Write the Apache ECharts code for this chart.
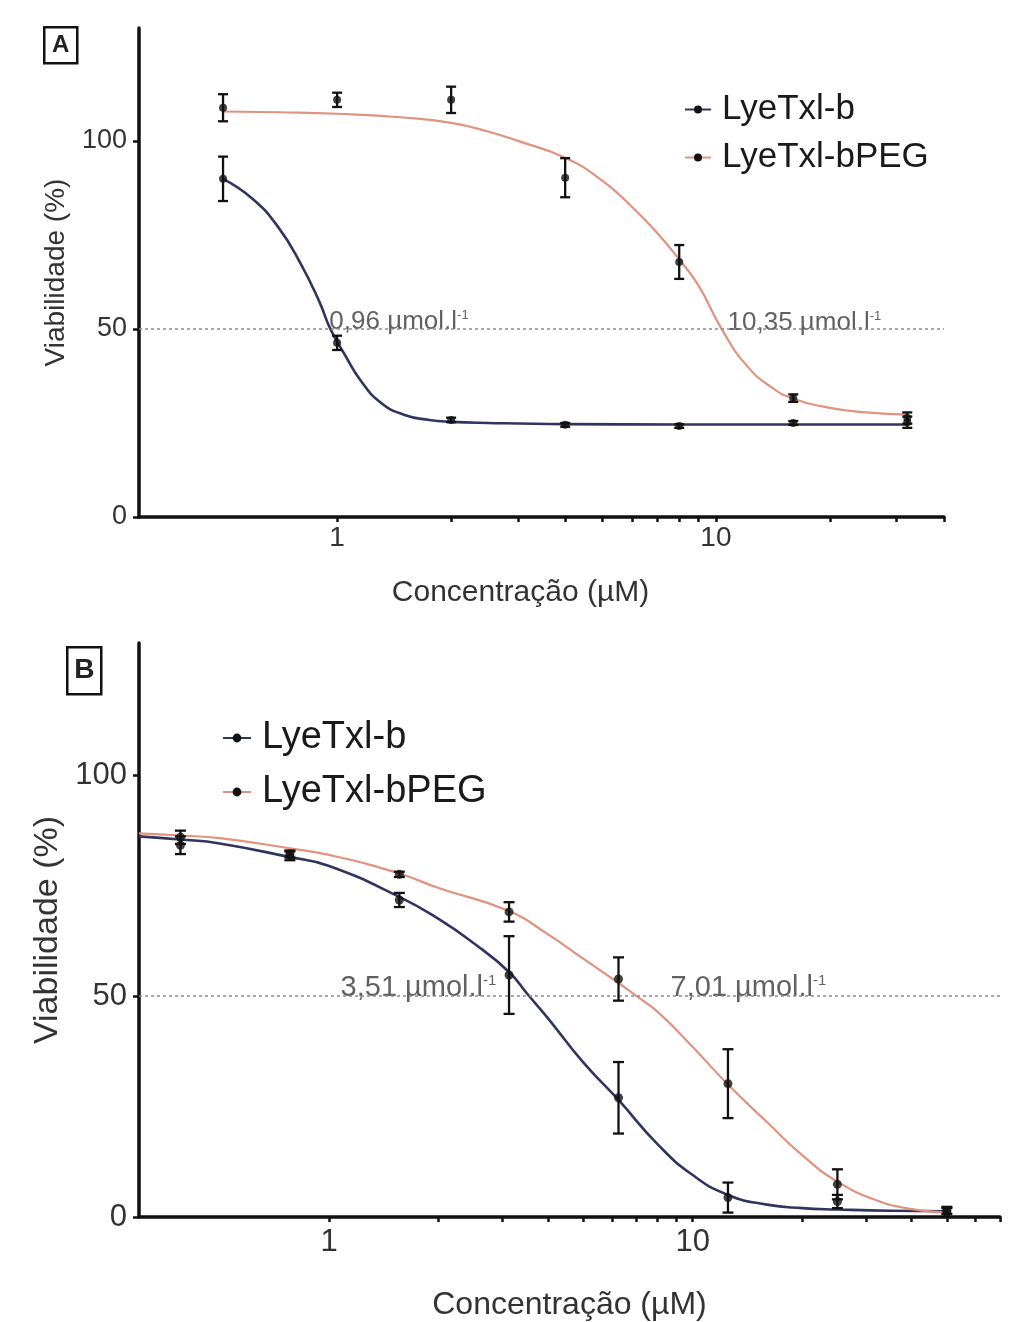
<!DOCTYPE html>
<html><head><meta charset="utf-8">
<script src="https://cdn.jsdelivr.net/npm/echarts@6/dist/echarts.min.js"></script>
<style>html,body{margin:0;padding:0;background:#fff}#c{width:1033px;height:1322px}</style>
</head><body><div id="c"></div>
<script>
// ---------- Panel A data ----------
const concA = [0.5, 1, 2, 4, 8, 16, 32];
const lyeA = [89.9, 46.3, 25.8, 24.5, 24.2, 25.0, 25.2];
const lyeAErr = [5.9, 1.9, 0.6, 0.5, 0.5, 0.5, 1.5];
const pegA = [108.8, 110.9, 110.9, 90.2, 67.8, 31.6, 26.3];
const pegAErr = [3.6, 1.9, 3.5, 5.2, 4.5, 1.0, 1.5];
const fitLyeAx = [0.5, 0.6, 0.7, 0.8, 0.9, 0.96, 1.05, 1.15, 1.3, 1.5, 1.75, 2, 2.5, 4, 8, 16, 32];
const fitLyeAy = [89.9, 84.5, 77, 67.5, 57, 50, 43, 36.5, 30.5, 27.2, 25.8, 25.3, 25, 24.7, 24.6, 24.6, 24.6];
const fitPegAx = [0.5, 0.7, 1, 1.5, 2, 2.5, 3, 4, 5, 6, 7, 8, 9, 10.35, 12, 14, 16, 20, 25, 32];
const fitPegAy = [107.8, 107.6, 107.2, 106.2, 104.8, 102.5, 100, 95.5, 89.5, 82.5, 75.5, 68.5, 61.5, 50, 40.5, 34.5, 31.5, 29, 27.8, 27.2];
const ic50A = [0.96, 10.35];
const ic50ATxt = ['0,96', '10,35'];

// ---------- Panel B data ----------
const concB = [0.39, 0.78, 1.56, 3.125, 6.25, 12.5, 25, 50];
const lyeB = [84.2, 81.8, 71.8, 54.8, 27, 4.4, 3.5, 1];
const lyeBErr = [2, 1, 1.6, 8.8, 8.1, 3.4, 1.5, 1];
const pegB = [86, 82.2, 77.6, 69.1, 53.9, 30.2, 7.4, 1.5];
const pegBErr = [1.5, 0.8, 0.6, 2.2, 4.9, 7.8, 3.4, 0.8];
const fitLyeBx = [0.3, 0.39, 0.5, 0.78, 1, 1.56, 2, 2.5, 3.125, 3.51, 4, 5, 6.25, 8, 10, 12.5, 16, 20, 25, 35, 50];
const fitLyeBy = [86.2, 85.5, 84.6, 81.5, 79.5, 72.5, 67.5, 62, 55.5, 50.5, 45, 35, 26.5, 16.5, 9.5, 5, 2.8, 2, 1.7, 1.4, 1.3];
const fitPegBx = [0.3, 0.39, 0.5, 0.78, 1, 1.56, 2, 3.125, 4, 5, 6.25, 7.01, 8, 10, 12.5, 16, 20, 25, 32, 40, 50];
const fitPegBy = [86.9, 86.4, 85.8, 83.5, 82, 77.8, 74.5, 69.3, 64, 58.5, 53, 50, 46.5, 38.5, 30, 21.5, 14, 8, 3.8, 1.8, 1];
const ic50B = [3.51, 7.01];
const ic50BTxt = ['3,51', '7,01'];

// ---------- Axis ticks ----------
const xTickLabels = [1, 10];
const minorTicksA = [2, 3, 4, 5, 6, 7, 8, 9, 20, 30, 40];
const minorTicksB = [2, 3, 4, 5, 6, 7, 8, 9, 20, 30, 40, 50, 60, 70];
const yTickLabels = [0, 50, 100];
const seriesNames = ['LyeTxl-b', 'LyeTxl-bPEG'];

const NAVY = '#30355e', PINK = '#e0937f', INK = '#111';
const FONT = "'Liberation Sans', Arial, sans-serif";
const zip = (a, b) => a.map((v, i) => [v, b[i]]);

function errSeries(xs, ys, es, idx, cap) {
  return {
    type: 'custom', xAxisIndex: idx, yAxisIndex: idx, z: 5, silent: true,
    encode: { x: 0, y: [1, 2] },
    data: xs.map((x, i) => [x, ys[i] - es[i], ys[i] + es[i]]),
    renderItem(params, api) {
      const lo = api.coord([api.value(0), api.value(1)]);
      const hi = api.coord([api.value(0), api.value(2)]);
      const s = { stroke: INK, lineWidth: 2.3 };
      return { type: 'group', children: [
        { type: 'line', shape: { x1: lo[0], y1: lo[1], x2: hi[0], y2: hi[1] }, style: s },
        { type: 'line', shape: { x1: lo[0] - cap, y1: lo[1], x2: lo[0] + cap, y2: lo[1] }, style: s },
        { type: 'line', shape: { x1: hi[0] - cap, y1: hi[1], x2: hi[0] + cap, y2: hi[1] }, style: s }
      ] };
    }
  };
}
function fitSeries(name, xs, ys, color, idx, width) {
  return {
    name, type: 'line', xAxisIndex: idx, yAxisIndex: idx, z: 3,
    data: zip(xs, ys), smooth: 0.5,
    showSymbol: false, symbol: 'circle', symbolSize: 8,
    itemStyle: { color: INK },
    lineStyle: { color, width }, silent: true
  };
}
function ptSeries(xs, ys, idx, size) {
  return { type: 'scatter', xAxisIndex: idx, yAxisIndex: idx, z: 6, silent: true,
    data: zip(xs, ys), symbolSize: size, itemStyle: { color: INK } };
}
function icSeries(vals, txts, idx, offsets, aligns, fs) {
  return {
    type: 'scatter', xAxisIndex: idx, yAxisIndex: idx, z: 4, silent: true, symbolSize: 0,
    data: vals.map((v, i) => ({
      value: [v, 50],
      label: { show: true, position: 'inside', align: aligns[i], verticalAlign: 'middle', offset: offsets[i],
        formatter: '{v|' + txts[i] + ' µmol.l}{s|-1}',
        rich: { v: { fontSize: fs, color: '#3a3a3a', fontFamily: FONT },
                s: { fontSize: Math.round(fs * 0.5), color: '#3a3a3a', fontFamily: FONT, verticalAlign: 'top' } } }
    })),
    markLine: { silent: true, symbol: 'none', label: { show: false },
      lineStyle: { type: [3, 3], color: '#8a8a8a', width: 1.6 },
      data: [{ yAxis: 50 }] }
  };
}
function xAxis(idx, max, minor, fsTick, fsName, gap, namePad, labelMargin) {
  return {
    gridIndex: idx, type: 'log', logBase: 10, min: 0.3, max,
    name: 'Concentração (µM)', nameLocation: 'middle', nameGap: gap,
    nameTextStyle: { fontSize: fsName, color: '#333', fontFamily: FONT, padding: namePad },
    axisLine: { show: true, lineStyle: { color: INK, width: 3.5 } },
    axisTick: { show: true, length: 5, lineStyle: { color: INK, width: 2.5 }, customValues: xTickLabels.concat(minor) },
    axisLabel: { fontSize: fsTick, color: '#333', fontFamily: FONT, margin: labelMargin, customValues: xTickLabels,
      formatter: v => String(Math.round(v)) },
    minorTick: { show: false }, splitLine: { show: false }
  };
}
function yAxis(idx, fsTick, fsName, gap) {
  return {
    gridIndex: idx, type: 'value', min: 0, max: 130, interval: 50,
    name: 'Viabilidade (%)', nameLocation: 'middle', nameRotate: 90, nameGap: gap,
    nameTextStyle: { fontSize: fsName, color: '#333', fontFamily: FONT },
    axisLine: { show: true, lineStyle: { color: INK, width: 3.5 } },
    axisTick: { show: true, length: 6, lineStyle: { color: INK, width: 2.5 }, customValues: yTickLabels },
    axisLabel: { fontSize: fsTick, color: '#333', fontFamily: FONT, margin: 12, customValues: yTickLabels },
    splitLine: { show: false }
  };
}
function panelBox(x, y, w, h, letter, fs) {
  return { type: 'group', left: x, top: y, children: [
    { type: 'rect', shape: { x: 0, y: 0, width: w, height: h }, style: { fill: '#fff', stroke: INK, lineWidth: 2.5 } },
    { type: 'text', x: w / 2, y: h / 2, style: { text: letter, fontSize: fs, fontFamily: FONT, fontWeight: 'bold', fill: '#222', align: 'center', verticalAlign: 'middle' } }
  ] };
}

const chart = echarts.init(document.getElementById('c'), null, { renderer: 'canvas' });
chart.setOption({
  backgroundColor: '#fff',
  animation: false,
  grid: [
    { left: 139, right: 89, top: 28, bottom: 805 },
    { left: 139, right: 33, top: 643, bottom: 105 }
  ],
  xAxis: [xAxis(0, 40, minorTicksA, 28, 30, 61, [0, 42, 0, 0], 7), xAxis(1, 70, minorTicksB, 31, 32, 72, 0, 10)],
  yAxis: [yAxis(0, 27, 28, 69), yAxis(1, 31, 34, 73)],
  legend: [
    { data: seriesNames, orient: 'vertical', left: 679, top: 87, itemWidth: 26, itemHeight: 10, itemGap: 13,
      selectedMode: false, textStyle: { fontSize: 35, color: '#1a1a1a', fontFamily: FONT, padding: [0, 0, 0, 6] } },
    { data: seriesNames, orient: 'vertical', left: 217, top: 714, itemWidth: 28, itemHeight: 11, itemGap: 16,
      selectedMode: false, textStyle: { fontSize: 38, color: '#1a1a1a', fontFamily: FONT, padding: [0, 0, 0, 6] } }
  ],
  graphic: [panelBox(43, 26, 33, 36, 'A', 24), panelBox(66, 646, 34, 47, 'B', 28)],
  series: [
    fitSeries(seriesNames[0], fitLyeAx, fitLyeAy, NAVY, 0, 2.6),
    fitSeries(seriesNames[1], fitPegAx, fitPegAy, PINK, 0, 2.2),
    errSeries(concA, lyeA, lyeAErr, 0, 5),
    errSeries(concA, pegA, pegAErr, 0, 5),
    ptSeries(concA, lyeA, 0, 8),
    ptSeries(concA, pegA, 0, 8),
    icSeries(ic50A, ic50ATxt, 0, [[-1, -7], [6, -6]], ['left', 'left'], 26),

    fitSeries(seriesNames[0], fitLyeBx, fitLyeBy, NAVY, 1, 2.6),
    fitSeries(seriesNames[1], fitPegBx, fitPegBy, PINK, 1, 2.2),
    errSeries(concB, lyeB, lyeBErr, 1, 5.5),
    errSeries(concB, pegB, pegBErr, 1, 5.5),
    ptSeries(concB, lyeB, 1, 9),
    ptSeries(concB, pegB, 1, 9),
    icSeries(ic50B, ic50BTxt, 1, [[-31, -8], [34, -8]], ['right', 'left'], 29)
  ]
});
</script>
</body></html>
